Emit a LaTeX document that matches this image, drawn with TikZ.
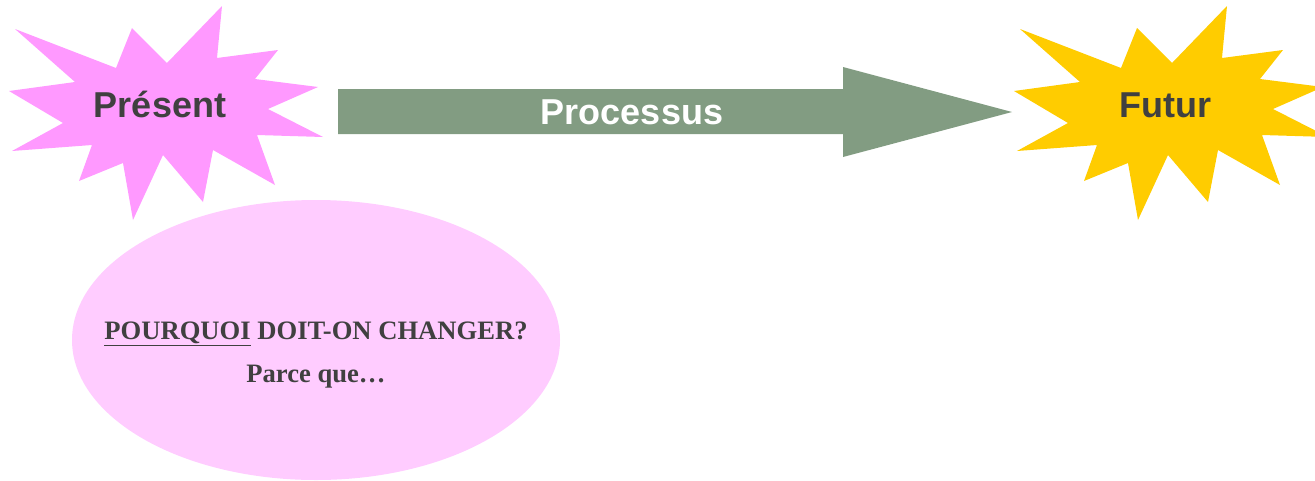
\documentclass[tikz,border=0pt]{standalone}
\usepackage{fontspec}
\newfontfamily\arialfont{Liberation Sans}
\newfontfamily\timesfont{Liberation Serif}
\usetikzlibrary{shapes.geometric}
\definecolor{starpink}{HTML}{FF99FF}
\definecolor{ovalpink}{HTML}{FFCCFF}
\definecolor{arrowgreen}{HTML}{829C82}
\definecolor{stargold}{HTML}{FFCC00}
\definecolor{textgray}{HTML}{404040}
\newcommand{\burst}{(15,29) -- (116,68) -- (132,28) -- (167,63) -- (222,6) -- (217,58) -- (278,50) -- (255,79) -- (318,87) -- (268,109) -- (323,137) -- (257,135) -- (275,185) -- (213,150) -- (203,202) -- (163,155) -- (133,220) -- (123,163) -- (79,181) -- (92,145) -- (12,151) -- (63,123) -- (9,91) -- (75,82) -- cycle}

\begin{document}
\begin{tikzpicture}[x=1pt, y=-1pt,
    bigsans/.style={font=\arialfont\bfseries\fontsize{36}{43}\selectfont, text=textgray, anchor=base, inner sep=0pt},
    serifline/.style={font=\timesfont\bfseries\fontsize{26.6}{31}\selectfont, text=textgray, anchor=base, inner sep=0pt}]
                    \useasboundingbox (0,0) rectangle (1315,480);
                    \clip (0,0) rectangle (1315,480);
                    \fill[starpink] \burst;
                    \fill[stargold, shift={(1005,0)}] \burst;
                    \fill[arrowgreen] (338,89) -- (843,89) -- (843,67) -- (1012,112) -- (843,157) -- (843,134) -- (338,134) -- cycle;
                    \node[ellipse, fill=ovalpink, minimum width=488pt, minimum height=280pt, inner sep=0pt] (why) at (316,340) {};
                    \node[bigsans] (present) at (160,117) {Présent};
                    \node[bigsans] (future) at (1165,117) {Futur};
                    \node[bigsans, text=white] (process) at (632,124) {Processus};
                    \node[serifline] (question) at (316,339) {\underline{POURQUOI} DOIT-ON CHANGER?};
                    \node[serifline] (because) at (316,382) {Parce que…};
                \end{tikzpicture}
\end{document}
